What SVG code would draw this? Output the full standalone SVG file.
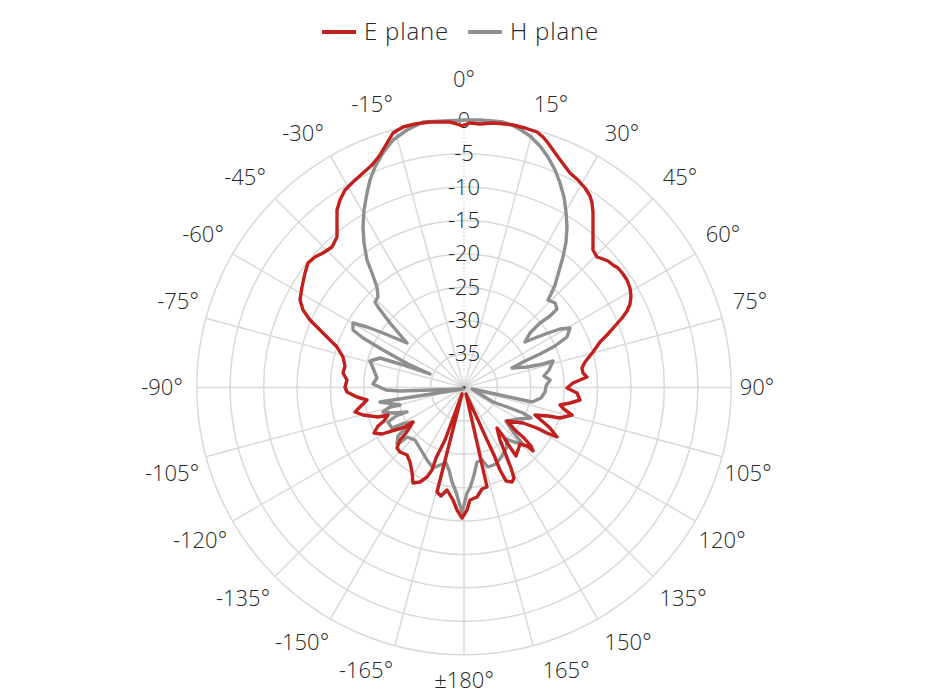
<svg xmlns="http://www.w3.org/2000/svg" xmlns:xlink="http://www.w3.org/1999/xlink" width="930" height="696" viewBox="0 0 930 696">
<style>
.grid{fill:none;stroke:#d9d9d9;stroke-width:1.5}
.lbl{font-family:"Open Sans","Liberation Sans",sans-serif;font-size:22px;font-weight:300;fill:#262626;text-anchor:middle}
.leg{font-family:"Open Sans","Liberation Sans",sans-serif;font-size:24px;font-weight:300;fill:#262626;letter-spacing:0.8px}
.e{fill:none;stroke:#c0211f;stroke-width:3.4;stroke-linejoin:round}
.h{fill:none;stroke:#8f8f8f;stroke-width:3.4;stroke-linejoin:round}
</style>
<defs>
<line id="sp" class="grid" x1="464" y1="387.5" x2="464" y2="120.3"/>
<radialGradient id="cg">
<stop offset="0" stop-color="#bdbdbd"/>
<stop offset="1" stop-color="#ffffff" stop-opacity="0"/>
</radialGradient>
</defs>
<rect width="930" height="696" fill="#ffffff"/>
<g id="grid">
<circle class="grid" cx="464" cy="387.5" r="33.4"/>
<circle class="grid" cx="464" cy="387.5" r="66.8"/>
<circle class="grid" cx="464" cy="387.5" r="100.2"/>
<circle class="grid" cx="464" cy="387.5" r="133.6"/>
<circle class="grid" cx="464" cy="387.5" r="167"/>
<circle class="grid" cx="464" cy="387.5" r="200.4"/>
<circle class="grid" cx="464" cy="387.5" r="233.8"/>
<circle class="grid" cx="464" cy="387.5" r="267.2"/>
<line x1="464" y1="387.5" x2="464" y2="120.3" stroke="#d0d0d0" stroke-width="1.2" stroke-dasharray="1.5 2"/>
<use xlink:href="#sp" transform="rotate(15 464 387.5)"/>
<use xlink:href="#sp" transform="rotate(30 464 387.5)"/>
<use xlink:href="#sp" transform="rotate(45 464 387.5)"/>
<use xlink:href="#sp" transform="rotate(60 464 387.5)"/>
<use xlink:href="#sp" transform="rotate(75 464 387.5)"/>
<use xlink:href="#sp" transform="rotate(90 464 387.5)"/>
<use xlink:href="#sp" transform="rotate(105 464 387.5)"/>
<use xlink:href="#sp" transform="rotate(120 464 387.5)"/>
<use xlink:href="#sp" transform="rotate(135 464 387.5)"/>
<use xlink:href="#sp" transform="rotate(150 464 387.5)"/>
<use xlink:href="#sp" transform="rotate(165 464 387.5)"/>
<use xlink:href="#sp" transform="rotate(180 464 387.5)"/>
<use xlink:href="#sp" transform="rotate(195 464 387.5)"/>
<use xlink:href="#sp" transform="rotate(210 464 387.5)"/>
<use xlink:href="#sp" transform="rotate(225 464 387.5)"/>
<use xlink:href="#sp" transform="rotate(240 464 387.5)"/>
<use xlink:href="#sp" transform="rotate(255 464 387.5)"/>
<use xlink:href="#sp" transform="rotate(270 464 387.5)"/>
<use xlink:href="#sp" transform="rotate(285 464 387.5)"/>
<use xlink:href="#sp" transform="rotate(300 464 387.5)"/>
<use xlink:href="#sp" transform="rotate(315 464 387.5)"/>
<use xlink:href="#sp" transform="rotate(330 464 387.5)"/>
<use xlink:href="#sp" transform="rotate(345 464 387.5)"/>
<circle cx="464" cy="387.5" r="14" fill="url(#cg)"/>
<circle cx="464" cy="387.5" r="1.6" fill="#333333"/>
</g>
<g id="angle-labels" class="lbl">
<text x="464" y="86.5">0°</text>
<text x="551" y="111.5">15°</text>
<text x="622" y="140.5">30°</text>
<text x="680" y="184.5">45°</text>
<text x="723" y="241.5">60°</text>
<text x="750" y="308.5">75°</text>
<text x="757" y="394.5">90°</text>
<text x="748" y="480.5">105°</text>
<text x="722" y="547.5">120°</text>
<text x="683" y="605.5">135°</text>
<text x="628" y="649.5">150°</text>
<text x="566" y="677.5">165°</text>
<text x="464" y="687.5">±180°</text>
<text x="366" y="677.5">-165°</text>
<text x="302" y="649.5">-150°</text>
<text x="243" y="605.5">-135°</text>
<text x="200" y="547.5">-120°</text>
<text x="172" y="480.5">-105°</text>
<text x="162" y="394.5">-90°</text>
<text x="178" y="308.5">-75°</text>
<text x="203" y="241.5">-60°</text>
<text x="245" y="184.5">-45°</text>
<text x="303" y="140.5">-30°</text>
<text x="372" y="111.5">-15°</text>
</g>
<g id="db-labels" class="lbl">
<text x="464" y="128">0</text>
<text x="464" y="161">-5</text>
<text x="464" y="194.5">-10</text>
<text x="464" y="228">-15</text>
<text x="464" y="261">-20</text>
<text x="464" y="294.5">-25</text>
<text x="464" y="328">-30</text>
<text x="464" y="361">-35</text>
</g>
<g id="h-plane">
<polygon class="h" points="464,120 480,120 493,121 503,122 512,125 521,130 530,136 540,146 548,157 555,170 560,183 564,197 566,212 567,227 566,242 563,257 559,271 555,285 551,294 548,300 555,303 557,309 550,316 540,323 530,333 525,342 535,338 548,333 560,329 570,328 567,337 555,346 540,354 525,361 512,368 527,367 543,364 553,361 549,370 544,376 550,380 546,386 545,392 541,398 532,402 500,395 472,389 493,402 510,408 523,413 531,418 518,419 506,421 511,429 517,437 523,444 514,442 506,439 507,447 502,456 496,464 488,467 482,460 477,462 474,475 470,488 467,493 464,505 462,512 459,502 456,492 452,482 449,470 446,463 440,465 433,468 427,460 421,450 415,440 407,437 401,442 397,444 398,436 405,429 412,422 402,424 392,428 388,422 396,416 407,412 393,413 383,412 390,407 400,405 380,402 463,389 400,391 386,390 373,384 377,378 373,368 370,361 380,358 400,364 430,374 408,364 383,350 363,338 353,330 353,323 367,327 383,333 407,343 390,323 378,307 375,302 378,297 377,287 372,273 367,260 364,243 363,227 364,210 367,193 370,180 375,167 383,153 393,140 407,130 423,122 443,121"/>
</g>
<g id="e-plane">
<polygon class="e" points="464,125 470,123 480,124 493,123 505,124 513,125 525,128 537,132 543,137 548,143 553,150 558,157 564,165 570,173 578,180 585,188 590,196 592,203 593,212 593,222 593,235 593,250 597,257 603,259 608,261 613,265 618,268 623,274 627,280 630,288 631,296 630,304 627,311 622,318 615,326 607,335 600,342 593,352 585,362 582,368 583,373 587,377 580,380 573,383 567,388 577,393 580,400 570,403 560,405 565,410 572,415 560,418 548,416 535,415 542,421 550,428 557,437 547,433 537,428 523,423 507,421 515,430 524,438 531,446 533,451 527,446 520,444 516,456 510,447 503,436 497,428 500,440 506,455 511,468 514,478 512,482 506,481 500,470 494,455 487,440 478,420 466,394 487,487 482,489 477,497 470,500 467,510 462,518 457,510 453,500 447,490 441,496 437,492 462,394 445,440 436,458 432,470 427,477 420,482 413,483 412,472 410,462 407,455 400,452 397,448 400,440 406,433 413,422 405,427 395,430 382,434 374,433 378,426 384,421 388,415 378,417 363,415 355,412 362,405 367,400 357,397 347,392 345,387 347,380 343,373 345,366 343,357 337,347 330,340 320,330 310,320 303,310 300,300 302,287 305,273 308,263 315,257 323,253 332,247 337,237 337,223 337,210 340,200 345,190 353,182 363,173 372,165 380,155 387,143 393,133 403,127 415,124 430,122 450,122 457,124 462,126"/>
</g>
<g id="legend">
<line x1="322" y1="32" x2="356" y2="32" stroke="#c0211f" stroke-width="4"/>
<text class="leg" x="364" y="39.5">E plane</text>
<line x1="468" y1="32" x2="502" y2="32" stroke="#8f8f8f" stroke-width="4"/>
<text class="leg" x="510" y="39.5">H plane</text>
</g>
</svg>
